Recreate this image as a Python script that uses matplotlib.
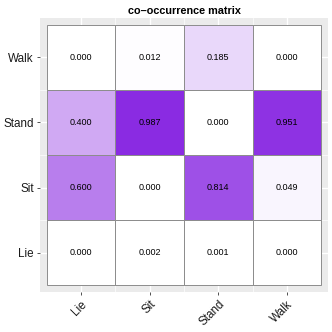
import numpy as np
import matplotlib
matplotlib.use("Agg")
import matplotlib.pyplot as plt
from matplotlib.colors import LinearSegmentedColormap, Normalize

plt.rcParams["font.family"] = ["Liberation Sans", "DejaVu Sans"]

categories = ["Lie", "Sit", "Stand", "Walk"]
# rows correspond to y categories (Lie, Sit, Stand, Walk), columns to x categories
values = [
    [0.000, 0.002, 0.001, 0.000],  # Lie
    [0.600, 0.000, 0.814, 0.049],  # Sit
    [0.400, 0.987, 0.000, 0.951],  # Stand
    [0.000, 0.012, 0.185, 0.000],  # Walk
]
title = "co\u2013occurrence matrix"

vals = np.array(values)
cmap = LinearSegmentedColormap.from_list("wp", ["#ffffff", "#8a2be2"])
norm = Normalize(vmin=vals.min(), vmax=vals.max())

fig = plt.figure(figsize=(3.32, 3.32), dpi=100)
W = H = 332
ax = fig.add_axes([40 / W, 1 - 292 / H, (328 - 40) / W, (292 - 18) / H])
ax.set_facecolor("#ebebeb")
for s in ax.spines.values():
    s.set_visible(False)

n = len(categories)
ax.set_xlim(-0.6, n - 0.4)
ax.set_ylim(-0.6, n - 0.4)
ax.set_xticks(range(n))
ax.set_yticks(range(n))
ax.set_xticks(np.arange(n - 1) + 0.5, minor=True)
ax.set_yticks(np.arange(n - 1) + 0.5, minor=True)
ax.grid(True, which="major", color="white", linewidth=1.0)
ax.grid(True, which="minor", color="white", linewidth=0.5)
ax.set_axisbelow(True)

for i in range(n):
    for j in range(n):
        v = vals[i, j]
        ax.add_patch(plt.Rectangle((j - 0.5, i - 0.5), 1, 1, facecolor=cmap(norm(v)),
                                   edgecolor="#8c8c8c", linewidth=0.7, zorder=2))
        ax.text(j, i, f"{v:.3f}", ha="center", va="center", fontsize=6.5,
                color="black", zorder=3)

ax.set_xticklabels(categories, rotation=45, ha="right", rotation_mode="anchor",
                   fontsize=8.4, color="#1a1a1a")
ax.set_yticklabels(categories, fontsize=8.4, color="#1a1a1a")
ax.tick_params(which="major", length=2.5, color="#333333", width=0.6, pad=2)
ax.tick_params(which="minor", length=0)
ax.set_title(title, fontsize=7.8, fontweight="bold", pad=3)

fig.savefig("out.png", dpi=100)
